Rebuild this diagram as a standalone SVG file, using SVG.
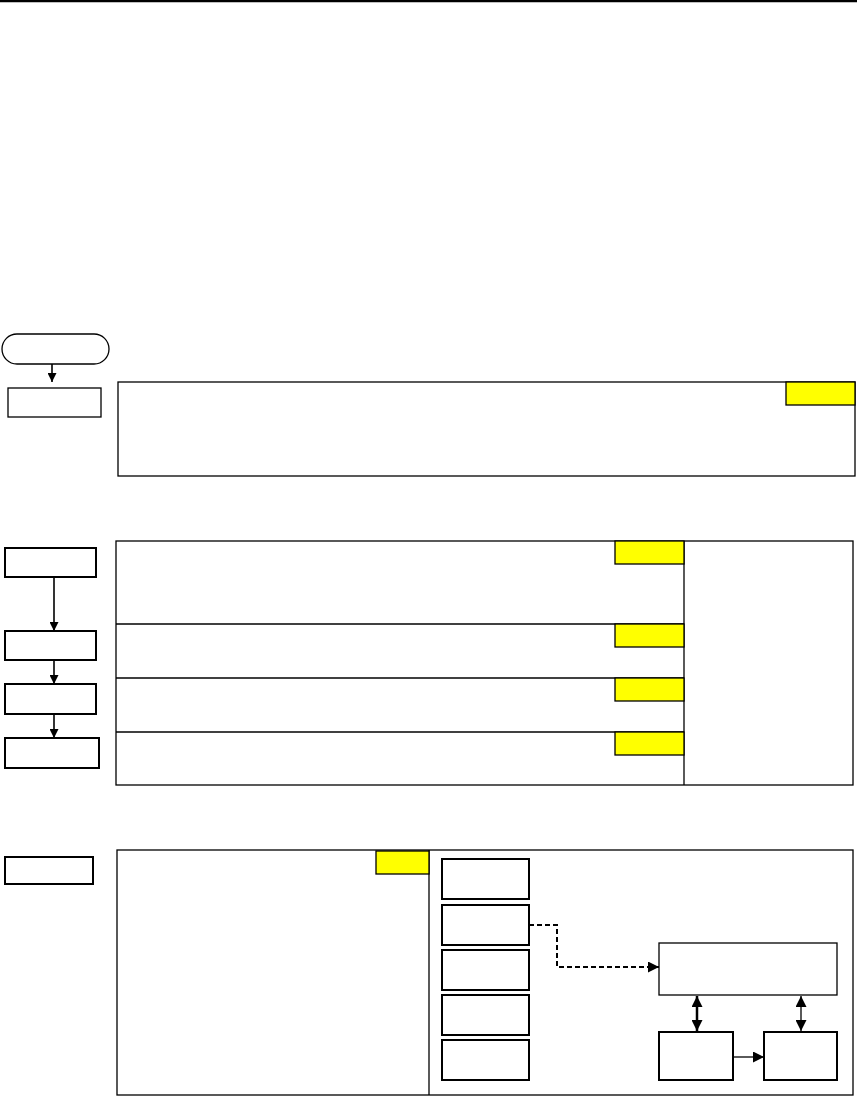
<svg xmlns="http://www.w3.org/2000/svg" width="857" height="1097" viewBox="0 0 857 1097">
<defs>
<style>
.frame{fill:none;stroke:#000;stroke-width:1.3}
.step{fill:#fff;stroke:#000;stroke-width:2}
.tag{fill:#ffff00;stroke:#000;stroke-width:1.3}
.sub{fill:#fff;stroke:#000;stroke-width:2}
.box{fill:#fff;stroke:#000;stroke-width:1.3}
.ln{fill:none;stroke:#000;stroke-width:1.3}
.flow{fill:none;stroke:#000;stroke-width:1.6}
.thick{fill:none;stroke:#000;stroke-width:2.5}
.dash{fill:none;stroke:#000;stroke-width:2;stroke-dasharray:5,3}
</style>
<marker id="ah" viewBox="0 0 10 10" refX="10" refY="5" markerWidth="11" markerHeight="11" markerUnits="userSpaceOnUse" orient="auto-start-reverse"><path d="M0,0 L10,5 L0,10 z" fill="#000"/></marker>
<marker id="ahs" viewBox="0 0 10 10" refX="10" refY="5" markerWidth="9" markerHeight="9" markerUnits="userSpaceOnUse" orient="auto-start-reverse"><path d="M0,0 L10,5 L0,10 z" fill="#000"/></marker>
</defs>
<rect x="0" y="0" width="857" height="1097" fill="#fff"/>
<line x1="0" y1="1" x2="857" y2="1" stroke="#000" stroke-width="2.5"/>

<g id="start"><rect x="2" y="334" width="107" height="30" rx="15" class="box"/></g>
<g id="step1"><rect x="8" y="388" width="93" height="29" class="box"/></g>
<g id="panel1"><rect x="118" y="382" width="737" height="94" class="frame"/><rect x="786" y="382" width="69" height="23" class="tag"/></g>

<g id="step2a"><rect x="5" y="548" width="91" height="29" class="step"/></g>
<g id="step2b"><rect x="5" y="631" width="91" height="29" class="step"/></g>
<g id="step2c"><rect x="5" y="684" width="91" height="30" class="step"/></g>
<g id="step2d"><rect x="5" y="738" width="94" height="30" class="step"/></g>
<g id="panel2">
<rect x="116" y="541" width="737" height="244" class="frame"/>
<line x1="684" y1="541" x2="684" y2="785" class="ln"/>
<line x1="116" y1="624" x2="684" y2="624" class="ln"/>
<line x1="116" y1="678" x2="684" y2="678" class="ln"/>
<line x1="116" y1="732" x2="684" y2="732" class="ln"/>
<rect x="615" y="541" width="69" height="23" class="tag"/>
<rect x="615" y="624" width="69" height="23" class="tag"/>
<rect x="615" y="678" width="69" height="23" class="tag"/>
<rect x="615" y="732" width="69" height="23" class="tag"/>
</g>

<g id="step3"><rect x="5" y="857" width="88" height="27" class="step"/></g>
<g id="panel3">
<rect x="117" y="850" width="736" height="245" class="frame"/>
<line x1="429" y1="850" x2="429" y2="1095" class="ln"/>
<rect x="376" y="851" width="53" height="23" class="tag"/>
</g>
<g id="item1"><rect x="442" y="859" width="87" height="40" class="sub"/></g>
<g id="item2"><rect x="442" y="905" width="87" height="40" class="sub"/></g>
<g id="item3"><rect x="442" y="950" width="87" height="40" class="sub"/></g>
<g id="item4"><rect x="442" y="995" width="87" height="40" class="sub"/></g>
<g id="item5"><rect x="442" y="1040" width="87" height="40" class="sub"/></g>
<g id="hub"><rect x="659" y="943" width="178" height="52" class="box"/></g>
<g id="left"><rect x="659" y="1032" width="74" height="48" class="sub"/></g>
<g id="right"><rect x="764" y="1032" width="73" height="48" class="sub"/></g>

<g id="connectors">
<line x1="52" y1="364" x2="52" y2="382" class="flow" marker-end="url(#ahs)"/>
<line x1="54" y1="577" x2="54" y2="631" class="flow" marker-end="url(#ahs)"/>
<line x1="54" y1="660" x2="54" y2="684" class="flow" marker-end="url(#ahs)"/>
<line x1="54" y1="714" x2="54" y2="738" class="flow" marker-end="url(#ahs)"/>
<polyline points="529,925 557,925 557,967 659,967" class="dash" marker-end="url(#ah)"/>
<line x1="697" y1="996" x2="697" y2="1031" class="thick" marker-start="url(#ah)" marker-end="url(#ah)"/>
<line x1="801" y1="996" x2="801" y2="1031" class="ln" marker-start="url(#ah)" marker-end="url(#ah)"/>
<line x1="733" y1="1057" x2="764" y2="1057" class="ln" marker-end="url(#ah)"/>
</g>
</svg>
